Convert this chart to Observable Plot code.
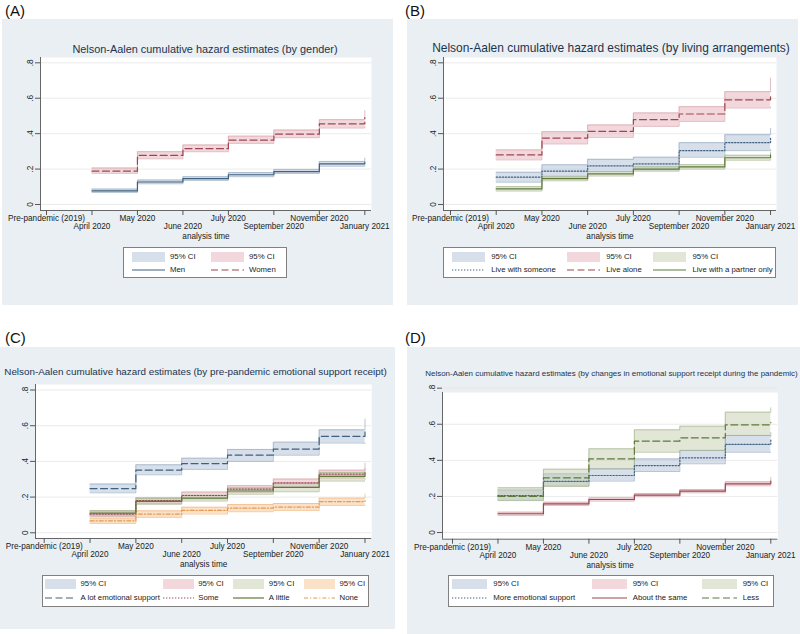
<!DOCTYPE html>
<html><head><meta charset="utf-8">
<script src="https://cdn.jsdelivr.net/npm/d3@7"></script>
<script src="https://cdn.jsdelivr.net/npm/@observablehq/plot@0.6"></script>
<style>
body{margin:0;background:#fff;font-family:"Liberation Sans",Arial,sans-serif;}
#page{position:relative;width:800px;height:634px;overflow:hidden;}
.bg{position:absolute;background:#e9eff2;}
.lab{position:absolute;font-size:15px;color:#111;line-height:1;transform:translateY(-50%);}
.title{position:absolute;white-space:nowrap;color:#1c3350;line-height:1;transform:translate(-50%,-50%);}
.plot{position:absolute;}
.legbox{position:absolute;background:#fff;border:1px solid #808080;box-sizing:border-box;}
.item{position:absolute;white-space:nowrap;line-height:1;font-size:7.8px;color:#222;transform:translateY(-50%);}
.sw{position:absolute;transform:translateY(-50%);}
</style></head>
<body><div id="page"></div>
<script>
// ---------- data ----------
const xLabels = ["Pre-pandemic (2019)","April 2020","May 2020","June 2020","July 2020","September 2020","November 2020","January 2021"];
const waves = [1,2,3,4,5,6,7]; // April 2020 ... January 2021
const yTicks = [0,0.2,0.4,0.6,0.8];
const yTickLabels = ["0",".2",".4",".6",".8"];

// (A) gender
const menEst   = [0.077,0.127,0.146,0.168,0.186,0.229,0.240];
const menLo    = [0.068,0.117,0.136,0.157,0.175,0.216,0.220];
const menHi    = [0.087,0.138,0.157,0.180,0.198,0.243,0.262];
const womenEst = [0.188,0.277,0.315,0.363,0.397,0.455,0.490];
const womenLo  = [0.176,0.258,0.298,0.345,0.377,0.432,0.440];
const womenHi  = [0.206,0.298,0.336,0.386,0.420,0.479,0.530];

// (B) living arrangements
const someoneEst = [0.154,0.188,0.218,0.229,0.304,0.349,0.375];
const someoneLo  = [0.126,0.154,0.186,0.196,0.267,0.304,0.310];
const someoneHi  = [0.182,0.224,0.255,0.267,0.349,0.394,0.430];
const aloneEst   = [0.280,0.375,0.413,0.479,0.511,0.591,0.625];
const aloneLo    = [0.252,0.342,0.379,0.441,0.469,0.545,0.550];
const aloneHi    = [0.308,0.411,0.449,0.517,0.552,0.637,0.714];
const partnerEst = [0.088,0.146,0.173,0.200,0.212,0.264,0.280];
const partnerLo  = [0.076,0.134,0.161,0.188,0.200,0.250,0.255];
const partnerHi  = [0.101,0.159,0.186,0.213,0.225,0.278,0.295];

// (C) pre-pandemic emotional support
const alotEst   = [0.248,0.351,0.388,0.435,0.469,0.540,0.565];
const alotLo    = [0.224,0.325,0.355,0.400,0.435,0.503,0.500];
const alotHi    = [0.273,0.381,0.418,0.467,0.508,0.577,0.637];
const someEst   = [0.105,0.180,0.209,0.245,0.280,0.329,0.345];
const someLo    = [0.090,0.163,0.190,0.226,0.258,0.306,0.300];
const someHi    = [0.120,0.197,0.228,0.264,0.301,0.351,0.390];
const littleEst = [0.110,0.176,0.194,0.234,0.254,0.316,0.330];
const littleLo  = [0.095,0.160,0.178,0.216,0.230,0.290,0.290];
const littleHi  = [0.125,0.192,0.210,0.252,0.276,0.338,0.360];
const noneEst   = [0.067,0.105,0.125,0.138,0.144,0.175,0.180];
const noneLo    = [0.052,0.086,0.105,0.118,0.125,0.153,0.155];
const noneHi    = [0.082,0.123,0.143,0.158,0.164,0.194,0.217];

// (D) changes in emotional support
const moreEst = [0.205,0.283,0.316,0.371,0.414,0.488,0.520];
const moreLo  = [0.180,0.260,0.285,0.338,0.381,0.445,0.445];
const moreHi  = [0.235,0.325,0.353,0.408,0.455,0.538,0.555];
const sameEst = [0.104,0.159,0.183,0.207,0.229,0.270,0.285];
const sameLo  = [0.095,0.150,0.174,0.198,0.220,0.259,0.260];
const sameHi  = [0.113,0.168,0.192,0.216,0.238,0.281,0.305];
const lessEst = [0.200,0.303,0.408,0.506,0.525,0.597,0.610];
const lessLo  = [0.177,0.255,0.353,0.445,0.455,0.538,0.530];
const lessHi  = [0.248,0.351,0.464,0.569,0.589,0.667,0.691];

// ---------- styles ----------
const C = {
  blue:   {line:"#40607f", fill:"#adc0d5", edge:"#97acc3"},
  red:    {line:"#9c4651", fill:"#e6b2b9", edge:"#d4a0a7"},
  green:  {line:"#5d7a3a", fill:"#c4cdb0", edge:"#a6b58e"},
  orange: {line:"#e39a55", fill:"#f7c48f", edge:"#efb97f"}
};
const DASH = {solid:null, dash:"7,3.5", dot:"1.3,1.7", dashdot:"4,2,1.2,2"};

const panels = [
  { tag:"(A)", labXY:[5,10], bg:[2,19,393,305],
    title:"Nelson-Aalen cumulative hazard estimates (by gender)", titleXY:[205,49], titleSize:10.9,
    frame:{l:40,t:57,r:371,b:210}, xDomain:[-0.132,7.147], yDomain:[-0.034,0.83],
    series:[
      {name:"Men", est:menEst, lo:menLo, hi:menHi, col:C.blue, dash:"solid"},
      {name:"Women", est:womenEst, lo:womenLo, hi:womenHi, col:C.red, dash:"dash"}],
    legend:{box:[123,247,164,31], cols:[132,211], keyW:33, textOff:38, rows:[256.5,269.5]} },
  { tag:"(B)", labXY:[405,10], bg:[407,19,798,305],
    title:"Nelson-Aalen cumulative hazard estimates (by living arrangements)", titleXY:[611,49], titleSize:11.95,
    frame:{l:443,t:57,r:776,b:210}, xDomain:[-0.153,7.13], yDomain:[-0.034,0.83],
    series:[
      {name:"Live with someone", est:someoneEst, lo:someoneLo, hi:someoneHi, col:C.blue, dash:"dot"},
      {name:"Live alone", est:aloneEst, lo:aloneLo, hi:aloneHi, col:C.red, dash:"dash"},
      {name:"Live with a partner only", est:partnerEst, lo:partnerLo, hi:partnerHi, col:C.green, dash:"solid"}],
    legend:{box:[442.5,247,333.5,31], cols:[451.7,566.7,653], keyW:33, textOff:39.5, rows:[256.5,269.5]} },
  { tag:"(C)", labXY:[5,337], bg:[0,347,395,629],
    title:"Nelson-Aalen cumulative hazard estimates (by pre-pandemic emotional support receipt)", titleXY:[195.5,372], titleSize:9.85,
    frame:{l:34.5,t:383.7,r:370.7,b:537.7}, xDomain:[-0.19,7.146], yDomain:[-0.032,0.831],
    series:[
      {name:"A lot emotional support", est:alotEst, lo:alotLo, hi:alotHi, col:C.blue, dash:"dash"},
      {name:"Some", est:someEst, lo:someLo, hi:someHi, col:C.red, dash:"dot"},
      {name:"A little", est:littleEst, lo:littleLo, hi:littleHi, col:C.green, dash:"solid"},
      {name:"None", est:noneEst, lo:noneLo, hi:noneHi, col:C.orange, dash:"dashdot"}],
    legend:{box:[41.5,574.5,327,32.5], cols:[45,162.7,233.3,304], keyW:31, textOff:35.5, rows:[584,597.5]} },
  { tag:"(D)", labXY:[405,337], bg:[407,347,800,634],
    title:"Nelson-Aalen cumulative hazard estimates (by changes in emotional support receipt during the pandemic)", titleXY:[611.5,373.7], titleSize:7.95,
    frame:{l:441.7,t:392,r:777,b:538.7}, xDomain:[-0.22,7.154], yDomain:[-0.037,0.776],
    series:[
      {name:"More emotional support", est:moreEst, lo:moreLo, hi:moreHi, col:C.blue, dash:"dot"},
      {name:"About the same", est:sameEst, lo:sameLo, hi:sameHi, col:C.red, dash:"solid"},
      {name:"Less", est:lessEst, lo:lessLo, hi:lessHi, col:C.green, dash:"dash"}],
    legend:{box:[447.5,574.5,326,32.5], cols:[452.3,591.7,701.7], keyW:35, textOff:41, rows:[584,598]} }
];

const page = document.getElementById("page");
function el(tag, cls, css, html){ const e=document.createElement(tag); if(cls) e.className=cls; Object.assign(e.style, css||{}); if(html!=null) e.textContent=html; page.appendChild(e); return e; }

const ML=40, MR=28, MT=10, MB=36;

for (const p of panels) {
  const [bx0,by0,bx1,by1] = p.bg;
  el("div","bg",{left:bx0+"px",top:by0+"px",width:(bx1-bx0)+"px",height:(by1-by0)+"px"});
  el("div","lab",{left:p.labXY[0]+"px",top:p.labXY[1]+"px"},p.tag);
  el("div","title",{left:p.titleXY[0]+"px",top:p.titleXY[1]+"px",fontSize:p.titleSize+"px"},p.title);

  const f = p.frame;
  const W = (f.r-f.l)+ML+MR, H = (f.b-f.t)+MT+MB;
  const pxPerX = (f.r-f.l)/(p.xDomain[1]-p.xDomain[0]);
  const labX = p.xDomain[0] - 10/pxPerX;
  const marks = [
    Plot.frame({fill:"white", stroke:"none"}),
    Plot.ruleY(yTicks, {stroke:"#e6e6e6", strokeWidth:0.8})
  ];
  const rowsOf = s => waves.map((w,i)=>({x:w, est:s.est[i], lo:s.lo[i], hi:s.hi[i]}));
  for (const s of p.series) {
    const rows = rowsOf(s);
    marks.push(Plot.areaY(rows,{x:"x",y1:"lo",y2:"hi",curve:"step-after",fill:s.col.fill,fillOpacity:0.5}));
    marks.push(Plot.line(rows,{x:"x",y:"lo",curve:"step-after",stroke:s.col.edge,strokeWidth:0.7}));
    marks.push(Plot.line(rows,{x:"x",y:"hi",curve:"step-after",stroke:s.col.edge,strokeWidth:0.7}));
  }
  for (const s of p.series) {
    marks.push(Plot.line(rowsOf(s),{x:"x",y:"est",curve:"step-after",stroke:s.col.line,strokeWidth:1.2,strokeDasharray:DASH[s.dash]}));
  }
  marks.push(Plot.ruleX([p.xDomain[0]],{stroke:"#555",strokeWidth:0.9}));
  marks.push(Plot.ruleY([p.yDomain[0]],{stroke:"#555",strokeWidth:0.9}));
  marks.push(Plot.axisY({ticks:yTicks, tickFormat:()=>"", tickSize:5, label:null, stroke:"#555"}));
  marks.push(Plot.text(yTicks,{x:()=>labX, y:d=>d, text:d=>yTickLabels[Math.round(d*5)], rotate:-90, textAnchor:"middle", fill:"#222"}));
  marks.push(Plot.axisX({ticks:[0,2,4,6], tickFormat:d=>xLabels[d], tickSize:5, tickPadding:0, label:null, stroke:"#555", fill:"#222"}));
  marks.push(Plot.axisX({ticks:[1,3,5,7], tickFormat:d=>xLabels[d], tickSize:5, tickPadding:8, label:null, stroke:"#555", fill:"#222"}));
  marks.push(Plot.text(["analysis time"],{frameAnchor:"bottom", lineAnchor:"middle", dy:26, fill:"#222"}));

  const svg = Plot.plot({
    width:W, height:H, marginLeft:ML, marginRight:MR, marginTop:MT, marginBottom:MB,
    x:{type:"linear", domain:p.xDomain},
    y:{type:"linear", domain:p.yDomain},
    style:{background:"transparent", fontFamily:"'Liberation Sans', Arial, sans-serif", fontSize:"8.2px", overflow:"visible"},
    marks
  });
  const holder = el("div","plot",{left:(f.l-ML)+"px",top:(f.t-MT)+"px",width:W+"px",height:H+"px"});
  holder.appendChild(svg);

  // legend
  const L = p.legend;
  el("div","legbox",{left:L.box[0]+"px",top:L.box[1]+"px",width:L.box[2]+"px",height:L.box[3]+"px"});
  p.series.forEach((s,i)=>{
    const x = L.cols[i];
    el("div","sw",{left:x+"px",top:L.rows[0]+"px",width:L.keyW+"px",height:"10px",background:s.col.fill,opacity:0.5});
    el("div","item",{left:(x+L.textOff)+"px",top:L.rows[0]+"px"},"95% CI");
    const ns="http://www.w3.org/2000/svg";
    const k=document.createElementNS(ns,"svg");
    k.setAttribute("width",L.keyW); k.setAttribute("height",4);
    Object.assign(k.style,{position:"absolute",left:x+"px",top:(L.rows[1]-2)+"px"});
    const ln=document.createElementNS(ns,"line");
    ln.setAttribute("x1",0);ln.setAttribute("x2",L.keyW);ln.setAttribute("y1",2);ln.setAttribute("y2",2);
    ln.setAttribute("stroke",s.col.line);ln.setAttribute("stroke-width",1.2);
    if (DASH[s.dash]) ln.setAttribute("stroke-dasharray",DASH[s.dash]);
    k.appendChild(ln); page.appendChild(k);
    el("div","item",{left:(x+L.textOff)+"px",top:L.rows[1]+"px"},s.name);
  });
}
</script></body></html>
